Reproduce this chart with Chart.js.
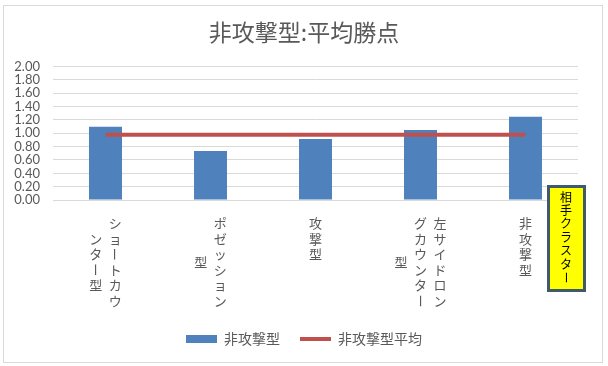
<!DOCTYPE html>
<html><head><meta charset="utf-8">
<script src="https://cdn.jsdelivr.net/npm/chart.js@4/dist/chart.umd.min.js"></script>
<style>html,body{margin:0;padding:0;background:#fff}#wrap{width:608px;height:366px;position:relative}</style>
</head><body><div id="wrap"><canvas id="c" width="608" height="366"></canvas></div>
<script>
const chartTitle = '非攻撃型:平均勝点';
const categories = ['ショートカウンター型', 'ポゼッション型', '攻撃型', '左サイドロングカウンター型', '非攻撃型'];
const categoryColumns = [
  ['ショートカウ', 'ンター型'],
  ['ポゼッション', '型'],
  ['攻撃型'],
  ['左サイドロン', 'グカウンター', '型'],
  ['非攻撃型']
];
const barLabel = '非攻撃型';
const barValues = [1.10, 0.735, 0.915, 1.05, 1.25];
const avgLabel = '非攻撃型平均';
const avgValues = [0.98, 0.98, 0.98, 0.98, 0.98];
const yTicks = [0, 0.2, 0.4, 0.6, 0.8, 1.0, 1.2, 1.4, 1.6, 1.8, 2.0];
const noteText = '相手クラスター';

const GRAY = '#595959';
const CJK = '"Noto Sans CJK JP", sans-serif';

function drawVChar(ctx, ch, x, y) {
  if (ch === 'ー') {
    ctx.save();
    ctx.translate(x, y);
    ctx.rotate(Math.PI / 2);
    ctx.fillText(ch, 0, 0);
    ctx.restore();
  } else {
    ctx.fillText(ch, x, y);
  }
}

const extras = {
  id: 'extras',
  afterDraw(chart) {
    const ctx = chart.ctx;
    const xs = chart.scales.x;
    const area = chart.chartArea;
    ctx.save();
    // outer chart border
    ctx.strokeStyle = '#D9D9D9';
    ctx.lineWidth = 1;
    ctx.strokeRect(3.5, 5.5, 599, 357);
    // vertical stacked category labels
    ctx.fillStyle = GRAY;
    ctx.font = '13px ' + CJK;
    ctx.textAlign = 'center';
    ctx.textBaseline = 'middle';
    const pitch = 15.6, colGap = 19.5;
    categoryColumns.forEach((cols, i) => {
      const cx = xs.getPixelForValue(i);
      const n = cols.length;
      const maxLen = Math.max(...cols.map(c => [...c].length));
      cols.forEach((col, j) => {
        const chars = [...col];
        const x = cx + ((n - 1) / 2 - j) * colGap;
        const y0 = area.bottom + 23 + (maxLen - chars.length) / 2 * pitch;
        chars.forEach((ch, k) => drawVChar(ctx, ch, x, y0 + k * pitch));
      });
    });
    // annotation text box
    ctx.fillStyle = '#FFFF00';
    ctx.fillRect(548.5, 186.5, 36, 104);
    ctx.strokeStyle = '#3E5A6B';
    ctx.lineWidth = 3;
    ctx.strokeRect(548.5, 186.5, 36, 104);
    ctx.fillStyle = '#000000';
    ctx.font = '12px ' + CJK;
    [...noteText].forEach((ch, k) => drawVChar(ctx, ch, 566, 197 + k * 13.4));
    ctx.restore();
  }
};

new Chart(document.getElementById('c'), {
  data: {
    labels: categories,
    datasets: [
      {
        type: 'bar', label: barLabel, data: barValues, order: 1,
        backgroundColor: '#4F81BD', borderWidth: 0,
        barPercentage: 0.314, categoryPercentage: 1
      },
      {
        type: 'line', label: avgLabel, data: avgValues, order: 0,
        borderColor: '#C0504D', backgroundColor: '#C0504D', borderWidth: 4,
        pointRadius: 0, fill: false, tension: 0
      }
    ]
  },
  options: {
    responsive: false,
    animation: false,
    devicePixelRatio: 1,
    layout: { padding: { left: 10, right: 10, top: 0, bottom: 10 } },
    plugins: {
      title: {
        display: true, text: chartTitle, color: GRAY,
        font: { family: CJK, size: 23, weight: 'normal', lineHeight: 1.2 },
        padding: { top: 18, bottom: 21 }
      },
      legend: {
        position: 'bottom',
        labels: {
          font: { family: CJK, size: 14 },
          color: GRAY,
          usePointStyle: true,
          pointStyleWidth: 31,
          boxHeight: 8,
          padding: 20,
          generateLabels: (chart) => chart.data.datasets.map((ds, i) => ({
            text: ds.label,
            fillStyle: ds.type === 'bar' ? ds.backgroundColor : 'rgba(0,0,0,0)',
            strokeStyle: ds.type === 'bar' ? ds.backgroundColor : ds.borderColor,
            lineWidth: ds.type === 'bar' ? 0 : 4,
            pointStyle: ds.type === 'bar' ? 'rect' : 'line',
            fontColor: GRAY,
            hidden: false,
            datasetIndex: i
          }))
        }
      },
      tooltip: { enabled: false }
    },
    scales: {
      x: {
        type: 'category', offset: true,
        grid: { display: false },
        border: { display: true, color: '#D9D9D9', width: 1 },
        ticks: { display: false },
        afterFit: (s) => { s.height = 112; }
      },
      y: {
        type: 'linear', position: 'left', min: 0, max: 2,
        grid: { color: '#D9D9D9', drawTicks: false, lineWidth: 1 },
        border: { display: false },
        ticks: {
          color: GRAY, padding: 13, autoSkip: false,
          font: { family: 'Lato, "Liberation Sans", sans-serif', size: 13 },
          callback: (v) => Number(v).toFixed(2)
        },
        afterBuildTicks: (s) => { s.ticks = yTicks.map(v => ({ value: v })); },
        afterFit: (s) => { s.width = 43; }
      },
      y2: {
        type: 'linear', position: 'right', axis: 'y',
        grid: { display: false },
        border: { display: false },
        ticks: { display: false },
        afterFit: (s) => { s.width = 20; }
      }
    }
  },
  plugins: [extras]
});
</script>
</body></html>
